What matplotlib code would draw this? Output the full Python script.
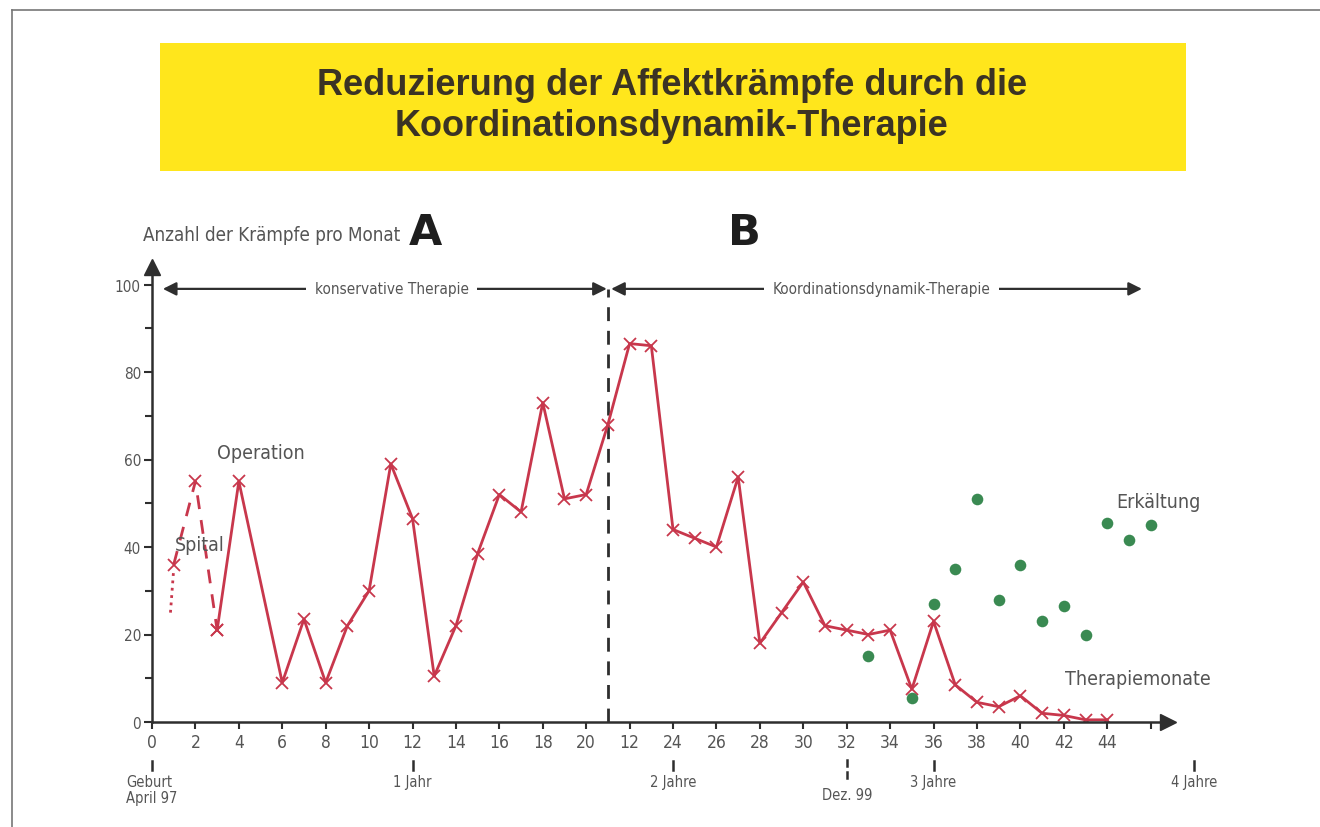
import matplotlib
matplotlib.use('Agg')
import matplotlib.pyplot as plt
from matplotlib.patches import Rectangle
from matplotlib.lines import Line2D

# Krämpfe pro Monat, Position auf der Zeitachse
spital_x = [1, 2, 3]
spital_y = [36, 55, 21]
months = [3, 4, 6, 7, 8, 9, 10, 11, 12, 13, 14, 15, 16, 17, 18, 19, 20, 21,
          22, 23, 24, 25, 26, 27, 28, 29, 30, 31, 32, 33, 34, 35, 36, 37, 38,
          39, 40, 41, 42, 43, 44]
seizures = [21, 55, 9, 23.5, 9, 22, 30, 59, 46.5, 10.5, 22, 38.5, 52, 48, 73, 51, 52, 68,
            86.5, 86, 44, 42, 40, 56, 18, 25, 32, 22, 21, 20, 21, 7.5, 23, 8.5, 4.5,
            3.5, 6, 2, 1.5, 0.5, 0.5]
# Erkältungen
cold_x = [33, 35, 36, 37, 38, 39, 40, 41, 42, 43, 44, 45, 46]
cold_y = [15, 5.5, 27, 35, 51, 28, 36, 23, 26.5, 20, 45.5, 41.5, 45]

xtick_pos = list(range(0, 48, 2))
xtick_labels = [str(v) for v in range(0, 22, 2)] + ['12'] + [str(v) for v in range(24, 46, 2)] + ['']
age_pos = [0, 12, 24, 32, 36, 48]
age_labels = ['Geburt\nApril 97', '1 Jahr', '2 Jahre', 'Dez. 99', '3 Jahre', '4 Jahre']

RED = '#c8374c'
GREEN = '#3a8a52'
GREY = '#555555'
DARK = '#2e2e2e'

plt.rcParams['font.family'] = ['DejaVu Sans']
plt.rcParams['font.stretch'] = 'condensed'

fig = plt.figure(figsize=(13.2, 8.28), dpi=100)
fig.patch.set_facecolor('white')

# Rahmen oben / links
fig.add_artist(Line2D([12/1320, 1], [1 - 11/828, 1 - 11/828], color='#777777', lw=1.2))
fig.add_artist(Line2D([12/1320, 12/1320], [0, 1 - 11/828], color='#777777', lw=1.2))

# gelber Titelkasten
fig.add_artist(Rectangle((160/1320, 1 - 172/828), 1026/1320, 128/828,
                         facecolor='#ffe61c', edgecolor='none'))
fig.text(672/1320, 1 - 106/828,
         'Reduzierung der Affektkrämpfe durch die\nKoordinationsdynamik-Therapie',
         ha='center', va='center', fontsize=26, fontweight='bold',
         family=['Liberation Sans', 'DejaVu Sans'], fontstretch='normal',
         color='#3b3324', linespacing=1.22)

ax = fig.add_axes([152/1320, 105/828, 1016/1320, 455/828])
ax.set_xlim(0, 46.8)
ax.set_ylim(0, 104)
for s in ['top', 'right']:
    ax.spines[s].set_visible(False)
for s in ['left', 'bottom']:
    ax.spines[s].set_color(DARK)
    ax.spines[s].set_linewidth(1.8)

# Pfeilspitzen der Achsen
ax.plot(46.8, 0, marker='>', color=DARK, markersize=11, clip_on=False)
ax.plot(0, 104, marker='^', color=DARK, markersize=11, clip_on=False)

ax.set_xticks(xtick_pos)
ax.set_xticklabels(xtick_labels)
ax.set_yticks([0, 20, 40, 60, 80, 100])
ax.set_yticks([10, 30, 50, 70, 90], minor=True)
ax.tick_params(axis='x', direction='out', length=5, width=1.5, color=DARK,
               labelsize=12.5, labelcolor=GREY, pad=3)
ax.tick_params(axis='y', which='major', direction='out', length=6, width=1.5, color=DARK,
               labelsize=11, labelcolor=GREY, pad=2)
ax.tick_params(axis='y', which='minor', direction='out', length=5, width=1.5, color=DARK)

# Phase A / B Trennlinie
ax.plot([21, 21], [0, 99], color=DARK, lw=2, linestyle=(0, (5, 3.5)))

# Spital-Phase
ax.plot([0.85, 1.0], [25, 35], color=RED, lw=2, linestyle=':')
ax.plot(spital_x, spital_y, color=RED, lw=2, linestyle=(0, (5, 4)),
        marker='x', markersize=8, markeredgewidth=1.3)
ax.plot(months, seizures, color=RED, lw=2, marker='x', markersize=8,
        markeredgewidth=1.3)
ax.scatter(cold_x, cold_y, s=70, color=GREEN, zorder=4, linewidths=0)

# Therapiepfeile
for x0, x1, label, xm in [(0.5, 20.95, 'konservative Therapie', 11.05),
                          (21.15, 45.6, 'Koordinationsdynamik-Therapie', 33.6)]:
    ax.annotate('', xy=(x0, 99), xytext=(x1, 99),
                arrowprops=dict(arrowstyle='<|-|>', color=DARK, lw=1.6,
                                mutation_scale=20, shrinkA=0, shrinkB=0),
                annotation_clip=False)
    ax.text(xm, 99, label, ha='center', va='center', fontsize=11, color=GREY,
            bbox=dict(facecolor='white', edgecolor='none', pad=6))

# Beschriftungen
ax.text(-0.42, 111.5, 'Anzahl der Krämpfe pro Monat', ha='left', va='center',
        fontsize=13.5, color=GREY, clip_on=False)
ax.text(12.6, 112, 'A', ha='center', va='center', fontsize=31, fontweight='heavy',
        family='DejaVu Sans', fontstretch='normal', color='#1e1e1e', clip_on=False)
ax.text(27.3, 112, 'B', ha='center', va='center', fontsize=31, fontweight='heavy',
        family='DejaVu Sans', fontstretch='normal', color='#1e1e1e', clip_on=False)
ax.text(3.0, 61.5, 'Operation', ha='left', va='center', fontsize=14, color=GREY)
ax.text(1.05, 40.5, 'Spital', ha='left', va='center', fontsize=14, color=GREY)
ax.text(44.4, 50.5, 'Erkältung', ha='left', va='center', fontsize=14, color=GREY)
ax.text(42.05, 10, 'Therapiemonate', ha='left', va='center', fontsize=14, color=GREY)

# Alterszeitachse unter der x-Achse
for p, lab in zip(age_pos, age_labels):
    if lab == 'Dez. 99':
        ax.plot([p, p], [-8.7, -10.0], color=DARK, lw=1.8, clip_on=False)
        ax.plot([p, p], [-11.4, -12.7], color=DARK, lw=1.8, clip_on=False)
        ax.text(p, -14.8, lab, ha='center', va='top', fontsize=10.5, color=GREY)
    else:
        ax.plot([p, p], [-9.0, -11.0], color=DARK, lw=1.8, clip_on=False)
        ax.text(p, -11.8, lab, ha='center', va='top', fontsize=10.5, color=GREY,
                multialignment='left', linespacing=1.1)

fig.savefig('out.png', dpi=100)
